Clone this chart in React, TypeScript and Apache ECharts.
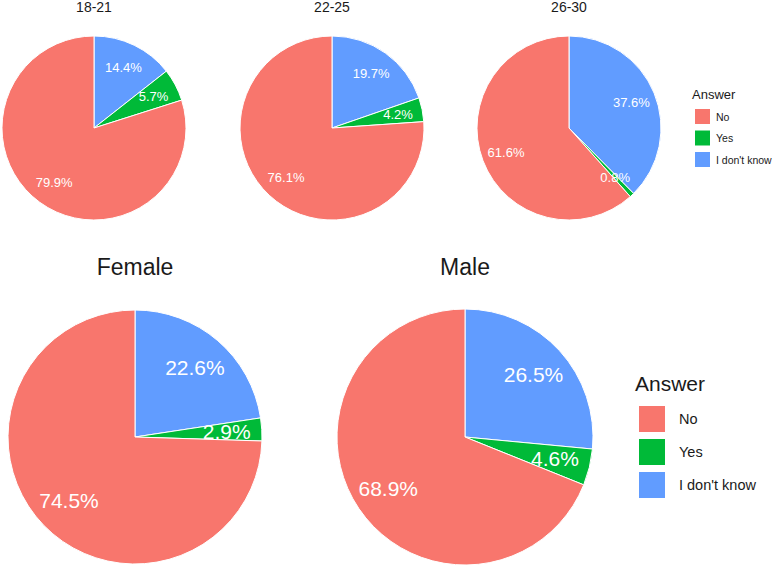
import React, { useEffect, useRef } from "react";
import * as echarts from "echarts";

const ANSWERS = ["No", "Yes", "I don't know"];
const COLORS = ["#F8766D", "#00BA38", "#619CFF"];

const AGE_GROUPS = ["18-21", "22-25", "26-30"];
const AGE_18_21 = [79.9, 5.7, 14.4];
const AGE_22_25 = [76.1, 4.2, 19.7];
const AGE_26_30 = [61.6, 0.8, 37.6];

const GENDERS = ["Female", "Male"];
const FEMALE = [74.5, 2.9, 22.6];
const MALE = [68.9, 4.6, 26.5];

const FONT = "'Liberation Sans', Arial, Helvetica, sans-serif";

type PieSpec = { title: string; values: number[]; cx: number; cy: number; r: number; labelSize: number };

const TOP_PIES: PieSpec[] = [
  { title: AGE_GROUPS[0], values: AGE_18_21, cx: 94, cy: 128, r: 92, labelSize: 13 },
  { title: AGE_GROUPS[1], values: AGE_22_25, cx: 332, cy: 128, r: 92, labelSize: 13 },
  { title: AGE_GROUPS[2], values: AGE_26_30, cx: 569, cy: 128, r: 92, labelSize: 13 },
];
const BOTTOM_PIES: PieSpec[] = [
  { title: GENDERS[0], values: FEMALE, cx: 135, cy: 437, r: 127, labelSize: 21 },
  { title: GENDERS[1], values: MALE, cx: 465, cy: 437, r: 128, labelSize: 21 },
];

function pieData(values: number[], transparent: boolean) {
  // clockwise from 12 o'clock: I don't know, Yes, No
  return [2, 1, 0].map((i) => ({
    name: ANSWERS[i],
    value: values[i],
    itemStyle: { color: transparent ? "rgba(0,0,0,0)" : COLORS[i] },
  }));
}

export default function App() {
  const ref = useRef<HTMLDivElement>(null);
  useEffect(() => {
    if (!ref.current) return;
    const chart = echarts.init(ref.current, undefined, { renderer: "svg" });
    const all = [...TOP_PIES, ...BOTTOM_PIES];
    const visible = all.map((p) => ({
      type: "pie",
      name: p.title,
      center: [p.cx, p.cy],
      radius: [0, p.r],
      startAngle: 90,
      clockwise: true,
      avoidLabelOverlap: false,
      label: { show: false },
      labelLine: { show: false },
      itemStyle: { borderColor: "#ffffff", borderWidth: 1 },
      emphasis: { disabled: true },
      data: pieData(p.values, false),
    }));
    const labels = all.map((p) => ({
      type: "pie",
      name: p.title + " labels",
      center: [p.cx, p.cy],
      radius: [p.r * 0.6, p.r * 0.8],
      startAngle: 90,
      clockwise: true,
      silent: true,
      avoidLabelOverlap: false,
      label: {
        show: true,
        position: "inside",
        color: "#ffffff",
        fontSize: p.labelSize,
        fontFamily: FONT,
        formatter: (d: any) => `${Number(d.value).toFixed(1)}%`,
      },
      labelLine: { show: false },
      itemStyle: { borderWidth: 0 },
      emphasis: { disabled: true },
      data: pieData(p.values, true),
    }));
    const legendData = ANSWERS.map((n, i) => ({ name: n, itemStyle: { color: COLORS[i] } }));
    const titleTexts = all.map((p, idx) => ({
      type: "text",
      x: p.cx,
      y: idx < 3 ? 7 : 267,
      style: {
        text: p.title,
        fill: "#1a1a1a",
        font: `${idx < 3 ? 14 : 23}px ${FONT}`,
        textAlign: "center",
        textVerticalAlign: "middle",
        align: "center",
        verticalAlign: "middle",
      },
    }));
    chart.setOption({
      animation: false,
      backgroundColor: "#ffffff",
      legend: [
        {
          orient: "vertical",
          left: 693,
          top: 107,
          padding: 0,
          icon: "rect",
          itemWidth: 17,
          itemHeight: 17,
          itemGap: 2.5,
          selectedMode: false,
          textStyle: { fontSize: 10.5, fontFamily: FONT, color: "#1a1a1a" },
          data: legendData,
        },
        {
          orient: "vertical",
          left: 637,
          top: 404,
          padding: 0,
          icon: "rect",
          itemWidth: 28,
          itemHeight: 28,
          itemGap: 3,
          selectedMode: false,
          textStyle: { fontSize: 14.5, fontFamily: FONT, color: "#1a1a1a", padding: [0, 0, 0, 8] },
          data: legendData,
        },
      ],
      graphic: [
        ...titleTexts,
        {
          type: "text",
          x: 692,
          y: 94,
          style: {
            text: "Answer",
            fill: "#1a1a1a",
            font: `13px ${FONT}`,
            textAlign: "left",
            textVerticalAlign: "middle",
            align: "left",
            verticalAlign: "middle",
          },
        },
        {
          type: "text",
          x: 635,
          y: 383,
          style: {
            text: "Answer",
            fill: "#1a1a1a",
            font: `21px ${FONT}`,
            textAlign: "left",
            textVerticalAlign: "middle",
            align: "left",
            verticalAlign: "middle",
          },
        },
      ],
      series: [...visible, ...labels],
    });
    return () => chart.dispose();
  }, []);
  return (
    <div
      ref={ref}
      style={{ position: "fixed", left: 0, top: 0, width: 777, height: 566, background: "#ffffff" }}
    />
  );
}
